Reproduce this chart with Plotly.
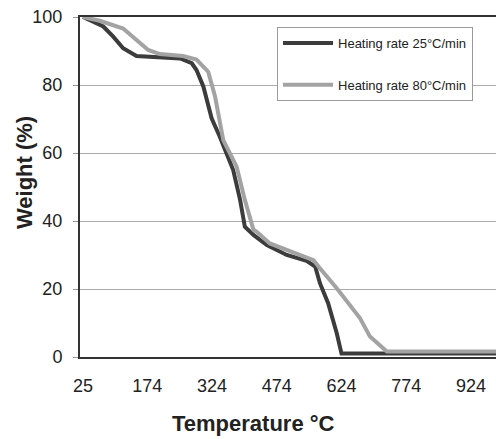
import plotly.graph_objects as go

# Heating rate 25 °C/min
temp_25 = [25, 49, 72, 95, 118, 149, 203, 250, 277, 288, 304, 323, 342, 373, 389, 400, 420, 451,
           497, 543, 563, 574, 593, 613, 624, 700, 800, 900, 1000]
weight_25 = [100, 98.6, 97.2, 94.2, 90.8, 88.5, 88.1, 87.8, 86.4, 84.4, 79.5, 70.2, 64.8, 55, 46.2,
             38.3, 35.9, 32.9, 30, 28.3, 26.6, 21.7, 15.8, 7, 1, 1, 1, 1, 1]

# Heating rate 80 °C/min
temp_80 = [25, 64, 118, 149, 176, 203, 257, 288, 315, 331, 350, 381, 400, 420, 427, 458, 505, 559,
           574, 613, 667, 690, 729, 800, 900, 1000]
weight_80 = [100, 98.9, 96.6, 93.2, 90.3, 89.1, 88.5, 87.5, 83.9, 76.6, 63.8, 56, 46.2, 37.4, 36.9,
             33.4, 31, 28.5, 26.1, 20.2, 11.4, 6, 1.6, 1.6, 1.6, 1.6]

x_ticks = [25, 174, 324, 474, 624, 774, 924]
y_ticks = [0, 20, 40, 60, 80, 100]

FONT = "Liberation Sans, Arial, sans-serif"

fig = go.Figure()
fig.add_trace(go.Scatter(x=temp_25, y=weight_25, mode="lines", name="Heating rate 25°C/min",
                         line=dict(color="#3c3c3c", width=4), legendgroup="a"))
fig.add_trace(go.Scatter(x=temp_80, y=weight_80, mode="lines", name="Heating rate 80°C/min",
                         line=dict(color="#a3a3a3", width=4), legendgroup="b"))

fig.update_layout(
    width=496, height=439, autosize=False,
    margin=dict(l=80, r=0, t=17, b=82, autoexpand=False),
    paper_bgcolor="white", plot_bgcolor="white",
    font=dict(family=FONT, size=18, color="#222"),
    showlegend=True,
    legend=dict(x=0.4736, y=0.9706, xanchor="left", yanchor="top",
                bordercolor="#999", borderwidth=1, bgcolor="white",
                font=dict(size=13, color="#222"), itemwidth=50,
                tracegroupgap=22),
    xaxis=dict(range=[18, 982], tickvals=x_ticks, ticktext=[str(v) for v in x_ticks],
               showgrid=False, zeroline=False, showline=True, linecolor="#333", linewidth=2,
               mirror=True, ticks="", ticklabelstandoff=11, automargin=False,
               tickfont=dict(size=18, color="#222")),
    yaxis=dict(range=[0, 100], tickvals=y_ticks, showgrid=True, gridcolor="#aaa", gridwidth=1,
               zeroline=False, showline=True, linecolor="#333", linewidth=2,
               ticks="outside", ticklen=5, tickcolor="#999", ticklabelstandoff=7, automargin=False,
               tickfont=dict(size=18, color="#222")),
    annotations=[
        dict(text="<b>Temperature °C</b>", xref="paper", yref="paper", x=0.418, y=-0.197,
             xanchor="center", yanchor="middle", showarrow=False,
             font=dict(size=22, color="#222", family=FONT)),
        dict(text="<b>Weight (%)</b>", xref="paper", yref="paper", x=-0.1346, y=0.541,
             xanchor="center", yanchor="middle", showarrow=False, textangle=-90,
             font=dict(size=22, color="#222", family=FONT)),
    ],
)

# remove the default page margin so the figure fills the window exactly
fig.write_html("out.html", config={"displayModeBar": False},
               post_script="document.body.style.margin='0';")
